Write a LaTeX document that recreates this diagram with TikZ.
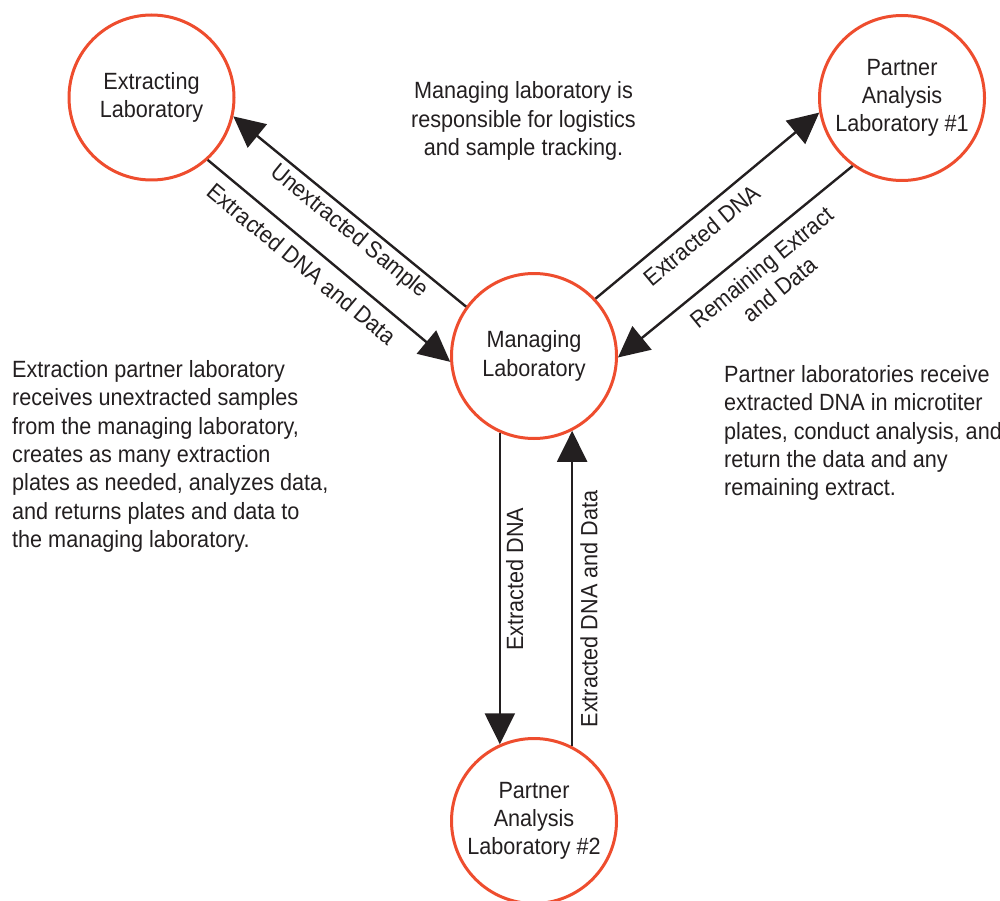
\documentclass[tikz,border=0pt]{standalone}
\usepackage{fontspec}
\setmainfont{Liberation Sans}[FakeStretch=0.92]
\usepackage{xcolor}
\usepackage{tikz}
\usetikzlibrary{arrows.meta}

\definecolor{labred}{RGB}{238,77,46}
\definecolor{ink}{RGB}{35,31,32}
\newcommand{\diagfont}{\fontsize{23.5}{28.3}\selectfont}

\begin{document}
\begin{tikzpicture}[x=1pt,y=-1pt,
    lab/.style={draw=labred,line width=3pt,circle,minimum size=165pt,
      inner sep=0pt,align=center,text=ink,font=\diagfont},
    flow/.style={draw=ink,line width=2.4pt,-{Triangle[length=31pt,width=30pt]}},
    tag/.style={sloped,below,align=center,text=ink,font=\diagfont},
    uptag/.style={rotate=90,below,text=ink,font=\diagfont},
    note/.style={anchor=west,align=left,text=ink,font=\diagfont,inner sep=0pt}]

    \useasboundingbox (0,0) rectangle (1000,901);
          % Keeps the page at the size of the original figure.

		\node[lab] (extlab) at (151.5,97.5) {Extracting\\Laboratory};
		\node[lab] (mgrlab) at (534,356) {Managing\\Laboratory};
		\node[lab] (pal1) at (902,98) {Partner\\Analysis\\Laboratory \#1};
		\node[lab] (pal2) at (534,821) {Partner\\Analysis\\Laboratory \#2};
            % The four laboratories

		\draw[flow] (mgrlab.144.6) -- node[tag,pos=0.46,inner sep=4pt] {Unextracted Sample} (extlab.-13.3);
		\draw[flow] (extlab.-48.4) -- node[tag,pos=0.44,inner sep=10pt] {Extracted DNA and Data} (mgrlab.-176);
		\draw[flow] (mgrlab.43.6) -- node[tag,pos=0.42,inner sep=9pt] {Extracted DNA} (pal1.-170);
		\draw[flow] (pal1.-126.7) -- node[tag,pos=0.445,inner sep=11pt] {Remaining Extract\\and Data} (mgrlab.-1.3);
		\draw[flow] (mgrlab.-114) -- node[uptag,pos=0.47,inner sep=5pt] {Extracted DNA} (pal2.114);
		\draw[flow] (pal2.63) -- node[uptag,pos=0.435,inner sep=7pt] {Extracted DNA and Data} (mgrlab.-63);
            % Samples and data going back and forth

		\node[note,anchor=center,align=center] (mgrnote) at (523.5,121) {Managing laboratory is\\responsible for logistics\\and sample tracking.};
		\node[note] (extnote) at (12,456.5) {Extraction partner laboratory\\receives unextracted samples\\from the managing laboratory,\\creates as many extraction\\plates as needed, analyzes data,\\and returns plates and data to\\the managing laboratory.};
		\node[note] (palnote) at (724,433) {Partner laboratories receive\\extracted DNA in microtiter\\plates, conduct analysis, and\\return the data and any\\remaining extract.};

\end{tikzpicture}
\end{document}
